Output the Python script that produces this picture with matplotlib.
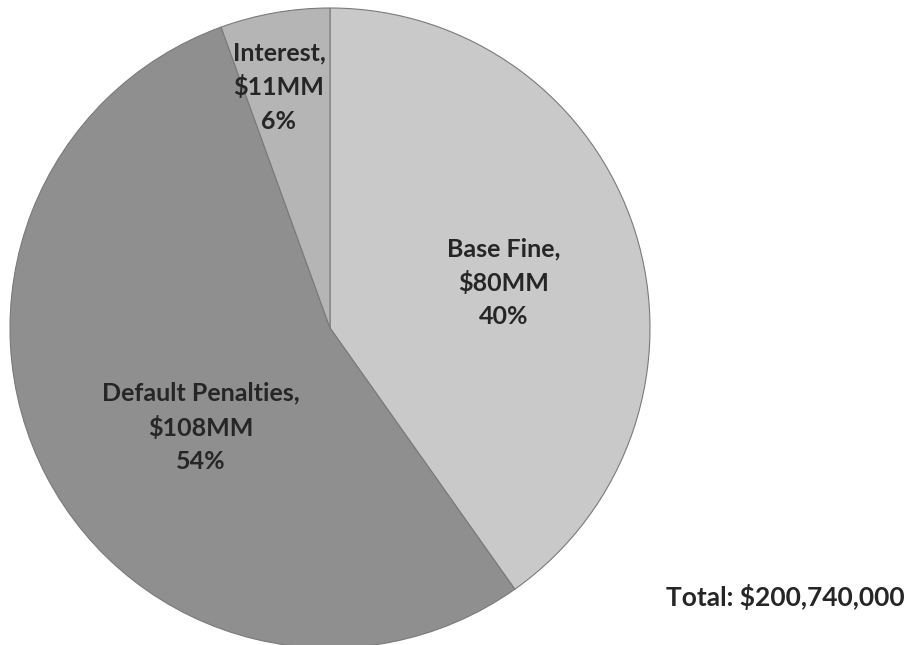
import numpy as np
import matplotlib.pyplot as plt

# Fine components, in $MM
names = ["Base Fine", "Default Penalties", "Interest"]
amounts = [80, 108, 11]
total_label = "Total: $200,740,000"

colors = ["#c9c9c9", "#8f8f8f", "#b5b5b5"]
# label placement: radius fraction and angular nudge (degrees)
label_dist = [0.56, 0.51, 0.77]
label_nudge = [-3, 10, 2]

plt.rcParams['font.family'] = ['Lato', 'DejaVu Sans']

fig = plt.figure(figsize=(9.1, 6.45), dpi=100)
ax = fig.add_axes([10 / 910, -3 / 645, 640 / 910, 640 / 645])

wedges, _ = ax.pie(amounts, colors=colors, startangle=90, counterclock=False,
                   radius=1.0,
                   wedgeprops=dict(edgecolor="#7a7a7a", linewidth=0.8))

tot = sum(amounts)
for w, name, amt, d, nd in zip(wedges, names, amounts, label_dist, label_nudge):
    mid = np.deg2rad((w.theta1 + w.theta2) / 2 + nd)
    x, y = d * np.cos(mid), d * np.sin(mid)
    pct = round(100 * amt / tot)
    ax.text(x, y, f"{name},\n${amt}MM\n{pct}%", ha="center", va="center",
            fontsize=18, fontweight="bold", color="#262626", linespacing=1.55)

ax.set_xlim(-1.0, 1.0)
ax.set_ylim(-1.0, 1.0)
ax.set_aspect("equal")
ax.axis("off")

fig.text(905 / 910, 1 - 597 / 645, total_label, ha="right", va="center",
         fontsize=19, fontweight="bold", color="#262626")

fig.savefig("out.png", dpi=100)
